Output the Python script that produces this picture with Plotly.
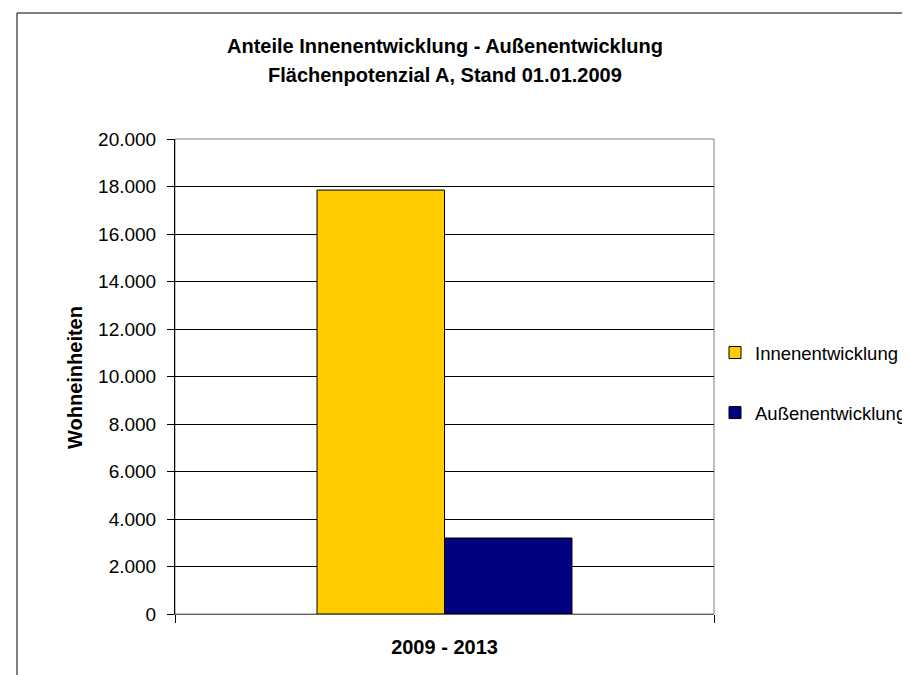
import plotly.graph_objects as go

categories = ["2009 - 2013"]
series_names = ["Innenentwicklung", "Außenentwicklung"]
innen_values = [17850]
aussen_values = [3200]
series_colors = ["#FFCC00", "#000080"]
y_ticks = [0, 2000, 4000, 6000, 8000, 10000, 12000, 14000, 16000, 18000, 20000]
title_lines = ["Anteile Innenentwicklung - Außenentwicklung", "Flächenpotenzial A, Stand 01.01.2009"]
y_title = "Wohneinheiten"

fig = go.Figure()
for name, vals, col in zip(series_names, [innen_values, aussen_values], series_colors):
    fig.add_trace(go.Bar(
        x=categories, y=vals, name=name, legendgroup=name,
        marker=dict(color=col, line=dict(color="#000000", width=1)),
    ))

# page body adds an 8px offset; target coordinates are given in screen pixels
OFF = 8
W, H = 910, 675
L, T = 175 - OFF, 139 - OFF
R = W - (714 - OFF)
B = H - (614 - OFF)
pw, ph = W - L - R, H - T - B

def px_x(x):
    return (x - OFF - L) / pw

def px_y(y):
    return (H - B - (y - OFF)) / ph

FONT = "Liberation Sans, Arial"

annotations = [
    dict(text="<b>" + title_lines[0] + "</b>", xref="paper", yref="paper",
         x=0.5, y=px_y(46), xanchor="center", yanchor="middle", showarrow=False,
         font=dict(size=20, family=FONT)),
    dict(text="<b>" + title_lines[1] + "</b>", xref="paper", yref="paper",
         x=0.5, y=px_y(75), xanchor="center", yanchor="middle", showarrow=False,
         font=dict(size=20, family=FONT)),
    dict(text="<b>" + y_title + "</b>", xref="paper", yref="paper",
         x=px_x(75), y=px_y(378), xanchor="center", yanchor="middle", showarrow=False,
         textangle=-90, font=dict(size=20, family=FONT)),
]

fig.update_layout(
    width=W, height=H,
    margin=dict(l=L, r=R, t=T, b=B, autoexpand=False),
    paper_bgcolor="white", plot_bgcolor="white",
    separators=",.",
    barmode="group", bargap=0.527, bargroupgap=0,
    font=dict(family=FONT, size=19, color="#000000"),
    showlegend=True,
    legend=dict(
        x=px_x(715), xanchor="left", y=px_y(334), yanchor="top",
        font=dict(size=18.5), tracegroupgap=33, itemwidth=30,
        bgcolor="rgba(0,0,0,0)",
    ),
    xaxis=dict(
        type="category", showgrid=False, showline=True, linecolor="#606060", linewidth=1,
        ticks="outside", tickson="boundaries", ticklen=8, tickcolor="#000000",
        tickvals=categories, ticktext=["<b>" + c + "</b>" for c in categories],
        tickfont=dict(size=20), zeroline=False, automargin=False,
        ticklabelstandoff=15,
    ),
    yaxis=dict(
        range=[0, 20000], tickvals=y_ticks, tickformat=",d",
        showgrid=True, gridcolor="#000000", gridwidth=1,
        showline=True, linecolor="#000000", linewidth=1,
        ticks="outside", ticklen=7, tickcolor="#000000",
        tickfont=dict(size=19), zeroline=False, automargin=False,
        ticklabelstandoff=7,
    ),
    annotations=annotations,
    shapes=[
        dict(type="rect", xref="paper", yref="paper", x0=0, x1=1, y0=0, y1=1,
             line=dict(color="#808080", width=1), layer="below"),
        dict(type="rect", xref="paper", yref="paper",
             x0=px_x(17), x1=px_x(930), y0=px_y(690), y1=px_y(13),
             line=dict(color="#000000", width=1), layer="above"),
    ],
)

fig.write_html("out.html")
